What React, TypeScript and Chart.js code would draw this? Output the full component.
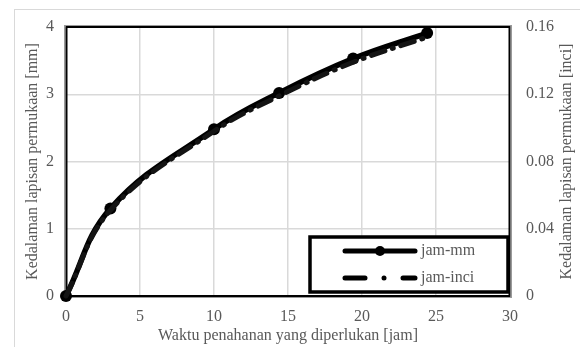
import React, { useEffect, useRef } from "react";
import { Chart, registerables } from "chart.js";

Chart.register(...registerables);

// ---- data ----
const hours = [0, 3, 10, 14.4, 19.4, 24.4];
const depthMm = [0, 1.3, 2.48, 3.02, 3.53, 3.91];
const depthInci = [0, 0.051, 0.098, 0.119, 0.139, 0.154];
const xTicks = [0, 5, 10, 15, 20, 25, 30];
const yMmTicks = [0, 1, 2, 3, 4];
const yInciTicks = ["0", "0.04", "0.08", "0.12", "0.16"];
const seriesNames = ["jam-mm", "jam-inci"];
const xTitle = "Waktu penahanan yang diperlukan [jam]";
const yTitle = "Kedalaman lapisan permukaan [mm]";
const y1Title = "Kedalaman lapisan permukaan [inci]";

const FONT = '"Liberation Serif", "Times New Roman", serif';
const TEXT = "#595959";
const GRID = "#d9d9d9";
const FS = 16;
const W = 580;
const H = 347;

const decorPlugin = {
  id: "decor",
  beforeDraw(chart: any) {
    const ctx = chart.ctx;
    ctx.save();
    ctx.fillStyle = "#fff";
    ctx.fillRect(0, 0, W, H);
    ctx.strokeStyle = GRID;
    ctx.lineWidth = 1;
    ctx.strokeRect(14.5, 9.5, W + 10, H + 10);
    ctx.restore();
  },
  beforeDatasetsDraw(chart: any) {
    const { ctx, chartArea: a } = chart;
    ctx.save();
    ctx.strokeStyle = "#9a9a9a";
    ctx.lineWidth = 1;
    ctx.strokeRect(a.left - 1.5, a.top - 1.5, a.right - a.left + 3, a.bottom - a.top + 3);
    ctx.strokeStyle = "#000";
    ctx.lineWidth = 2;
    ctx.strokeRect(a.left + 0.5, a.top, a.right - a.left - 1, a.bottom - a.top);
    ctx.restore();
  },
  afterDraw(chart: any) {
    const { ctx, chartArea: a } = chart;
    ctx.save();
    ctx.fillStyle = TEXT;
    ctx.font = `${FS}px ${FONT}`;
    ctx.textAlign = "center";
    ctx.textBaseline = "middle";
    // x title
    ctx.fillText(xTitle, (a.left + a.right) / 2, 336);
    const cy = (a.top + a.bottom) / 2;
    ctx.save();
    ctx.translate(33, cy);
    ctx.rotate(-Math.PI / 2);
    ctx.fillText(yTitle, 0, 0);
    ctx.restore();
    ctx.save();
    ctx.translate(567, cy);
    ctx.rotate(-Math.PI / 2);
    ctx.fillText(y1Title, 0, 0);
    ctx.restore();

    // legend box
    const bx1 = a.right - 2;
    const by2 = a.bottom - 4;
    const bx0 = bx1 - 198;
    const by0 = by2 - 55;
    ctx.fillStyle = "#fff";
    ctx.fillRect(bx0, by0, bx1 - bx0, by2 - by0);
    ctx.strokeStyle = "#000";
    ctx.lineWidth = 3.5;
    ctx.strokeRect(bx0, by0, bx1 - bx0, by2 - by0);

    const r1 = by0 + 14;
    const r2 = by0 + 41;
    const lx0 = bx0 + 35;
    const lx1 = bx0 + 105;
    ctx.lineCap = "round";
    ctx.lineWidth = 5;
    ctx.beginPath();
    ctx.moveTo(lx0, r1);
    ctx.lineTo(lx1, r1);
    ctx.stroke();
    ctx.fillStyle = "#000";
    ctx.beginPath();
    ctx.arc((lx0 + lx1) / 2, r1, 5, 0, Math.PI * 2);
    ctx.fill();

    ctx.beginPath();
    ctx.moveTo(lx0, r2);
    ctx.lineTo(lx0 + 20, r2);
    ctx.moveTo(lx0 + 58, r2);
    ctx.lineTo(lx1, r2);
    ctx.stroke();
    ctx.beginPath();
    ctx.arc(lx0 + 39, r2, 2.5, 0, Math.PI * 2);
    ctx.fill();

    ctx.fillStyle = TEXT;
    ctx.textAlign = "left";
    ctx.fillText(seriesNames[0], lx1 + 6, r1);
    ctx.fillText(seriesNames[1], lx1 + 6, r2);
    ctx.restore();
  },
};

export default function App() {
  const ref = useRef<HTMLCanvasElement>(null);
  useEffect(() => {
    if (!ref.current) return;
    const chart = new Chart(ref.current, {
      type: "line",
      data: {
        datasets: [
          {
            label: seriesNames[1],
            data: hours.map((h, i) => ({ x: h, y: depthInci[i] })),
            yAxisID: "y1",
            borderColor: "#141414",
            borderWidth: 5,
            borderDash: [14, 8, 1, 8],
            borderCapStyle: "round",
            pointRadius: 0,
            tension: 0.4,
            clip: false as any,
          },
          {
            label: seriesNames[0],
            data: hours.map((h, i) => ({ x: h, y: depthMm[i] })),
            yAxisID: "y",
            borderColor: "#000",
            backgroundColor: "#000",
            borderWidth: 5.5,
            borderCapStyle: "round",
            borderJoinStyle: "round",
            pointRadius: 6,
            pointBackgroundColor: "#000",
            pointBorderWidth: 0,
            tension: 0.4,
            clip: false as any,
          },
        ],
      },
      options: {
        animation: false,
        responsive: false,
        layout: { padding: { top: 27, left: 0, right: 0, bottom: 0 } },
        plugins: { legend: { display: false }, tooltip: { enabled: false } },
        scales: {
          x: {
            type: "linear",
            min: 0,
            max: 30,
            afterFit: (s: any) => {
              s.height = 51;
            },
            afterBuildTicks: (s: any) => {
              s.ticks = xTicks.map((v) => ({ value: v }));
            },
            ticks: { color: TEXT, font: { family: FONT, size: FS }, padding: 11, maxRotation: 0 },
            grid: { color: GRID, lineWidth: 1.5, drawTicks: false },
            border: { display: false },
          },
          y: {
            type: "linear",
            position: "left",
            min: 0,
            max: 4,
            afterFit: (s: any) => {
              s.width = 66;
            },
            afterBuildTicks: (s: any) => {
              s.ticks = yMmTicks.map((v) => ({ value: v }));
            },
            ticks: { color: TEXT, font: { family: FONT, size: FS }, padding: 12 },
            grid: { color: GRID, lineWidth: 1.5, drawTicks: false },
            border: { display: false },
          },
          y1: {
            type: "linear",
            position: "right",
            min: 0,
            max: 0.16,
            afterFit: (s: any) => {
              s.width = W - 510;
            },
            afterBuildTicks: (s: any) => {
              s.ticks = yInciTicks.map((t) => ({ value: parseFloat(t) }));
            },
            ticks: {
              color: TEXT,
              font: { family: FONT, size: FS },
              padding: 16,
              callback: (_v: any, i: number) => yInciTicks[i],
            },
            grid: { display: false, drawTicks: false },
            border: { display: false },
          },
        },
      },
      plugins: [decorPlugin],
    });
    return () => chart.destroy();
  }, []);
  return (
    <div style={{ position: "absolute", left: 0, top: 0, width: W, height: H }}>
      <canvas ref={ref} width={W} height={H} style={{ display: "block", width: W, height: H }} />
    </div>
  );
}
